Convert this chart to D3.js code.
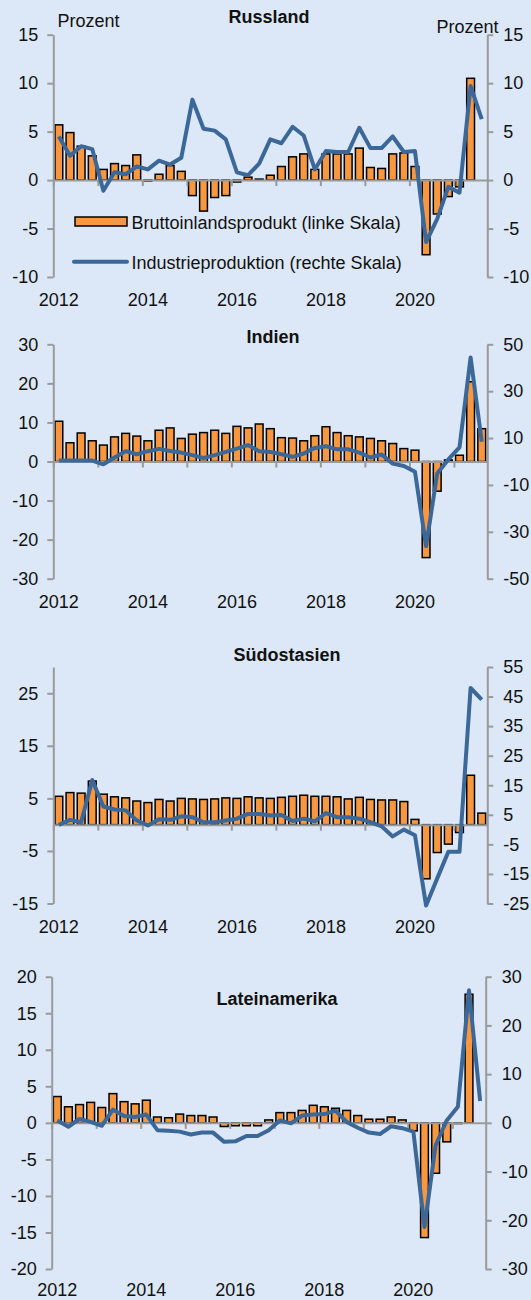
<!DOCTYPE html>
<html>
<head>
<meta charset="utf-8">
<script src="https://cdn.jsdelivr.net/npm/d3@7"></script>
<style>
body { margin: 0; background: #dce8f7; }
svg { display: block; font-family: "Liberation Sans", Arial, sans-serif; }
</style>
</head>
<body>
<div id="chart"></div>
<script>
"use strict";

// quarters 2012Q1 .. 2021Q3
var years = [2012, 2013, 2014, 2015, 2016, 2017, 2018, 2019, 2020, 2021];
var quarters = [];
years.forEach(function(y) {
  [1, 2, 3, 4].forEach(function(q) {
    if (y < 2021 || q < 4) quarters.push(y + "Q" + q);
  });
});
var yearLabels = [2012, 2014, 2016, 2018, 2020];

// Russland (Veraenderung ggue. Vorjahr, Prozent)
var rusGdp = [5.7, 4.9, 3.5, 2.5, 1.1, 1.7, 1.5, 2.6, -0.1, 0.6, 1.5, 0.9, -1.6, -3.2, -1.8, -1.6, -0.2, 0.3, 0.1, 0.5,
  1.4, 2.4, 2.7, 1.1, 2.7, 2.7, 2.7, 3.3, 1.3, 1.2, 2.7, 2.8, 1.4, -7.7, -3.5, -1.7, -0.7, 10.5, null];
var rusIp = [4.5, 2.5, 3.5, 3.2, -1.1, 0.8, 0.6, 1.4, 1.1, 2.0, 1.6, 2.3, 8.3, 5.3, 5.1, 4.2, 0.8, 0.5, 1.7, 4.2,
  3.8, 5.5, 4.6, 1.1, 3.0, 2.9, 2.9, 5.4, 3.3, 3.3, 4.5, 2.9, 3.0, -6.4, -4.0, -0.7, -1.3, 9.7, 6.3];

// Indien
var indGdp = [10.3, 4.8, 7.3, 5.3, 4.2, 6.3, 7.2, 6.5, 5.3, 8.0, 8.6, 5.9, 7.0, 7.4, 8.0, 7.2, 9.0, 8.6, 9.6, 8.4,
  6.1, 6.0, 5.3, 6.6, 8.9, 7.4, 6.6, 6.3, 5.9, 5.3, 4.6, 3.3, 2.9, -24.6, -7.6, 0.4, 1.6, 20.4, 8.4];
var indIp = [0.4, 0.4, 0.4, 0.4, -1.2, 1.7, 4.4, 3.1, 4.4, 5.4, 4.5, 3.8, 2.7, 1.5, 2.7, 4.1, 5.5, 7.0, 4.4, 4.1,
  3.1, 2.0, 3.4, 5.8, 6.5, 5.2, 5.2, 3.8, 1.7, 3.0, -0.9, -1.9, -4.4, -36.1, -5.1, 0.9, 6.0, 44.4, 8.4];

// Suedostasien
var seaGdp = [5.4, 6.1, 6.0, 8.3, 5.8, 5.3, 5.1, 4.5, 4.2, 4.8, 4.5, 5.0, 4.9, 4.8, 4.9, 5.1, 5.0, 5.3, 5.1, 5.0,
  5.2, 5.4, 5.6, 5.4, 5.4, 5.3, 4.9, 5.2, 4.8, 4.7, 4.7, 4.4, 1.0, -10.3, -5.3, -3.7, -1.5, 9.4, 2.2];
var seaIp = [1.6, 3.3, 2.5, 16.8, 7.8, 6.8, 6.5, 3.1, 1.4, 3.5, 3.3, 4.5, 4.2, 2.5, 2.5, 3.1, 3.7, 5.3, 5.3, 4.8,
  4.9, 2.9, 3.7, 2.8, 5.6, 4.2, 4.2, 3.7, 2.5, 1.1, -2.3, 0.0, -1.9, -25.7, -16.5, -7.5, -7.5, 47.9, 44.0];

// Lateinamerika
var latGdp = [3.6, 2.2, 2.5, 2.8, 2.1, 4.0, 2.9, 2.6, 3.1, 0.8, 0.7, 1.2, 1.0, 1.0, 0.8, -0.5, -0.4, -0.4, -0.4, 0.4,
  1.4, 1.4, 1.7, 2.4, 2.2, 2.0, 1.7, 1.0, 0.5, 0.5, 0.8, 0.4, -1.1, -15.7, -6.9, -2.6, -0.1, 17.6, null];
var latIp = [0.5, -0.8, 0.8, 0.2, -0.6, 2.7, 1.4, 1.2, 1.7, -1.5, -1.6, -1.8, -2.4, -2.0, -2.0, -3.9, -3.8, -2.7, -2.7, -1.5,
  0.5, -0.1, 1.5, 1.7, 1.8, 2.5, 0.2, -1.0, -2.0, -2.3, -0.7, -1.1, -1.8, -21.4, -4.6, 0.5, 3.3, 27.2, 4.5];

// axis ticks
var rusTicks = [-10, -5, 0, 5, 10, 15];
var indLeftTicks = [-30, -20, -10, 0, 10, 20, 30];
var indRightTicks = [-50, -30, -10, 10, 30, 50];
var seaLeftTicks = [-15, -5, 5, 15, 25];
var seaRightTicks = [-25, -15, -5, 5, 15, 25, 35, 45, 55];
var latLeftTicks = [-20, -15, -10, -5, 0, 5, 10, 15, 20];
var latRightTicks = [-30, -20, -10, 0, 10, 20, 30];

var width = 531,
  height = 1300;

var orange = "#f7973f",
  blue = "#3b6898",
  axisGray = "#9a9a9a",
  textCol = "#111";

var panels = [
  { title: "Russland", tx: 269, ty: 23, x0: 53.3, x1: 487.3, top: 34.7, bottom: 277, lab: 28.5,
    left: [-10, 15], right: [-10, 15], lt: rusTicks, rt: rusTicks, gdp: rusGdp, ip: rusIp, legend: true },
  { title: "Indien", tx: 273, ty: 343, x0: 53.3, x1: 487.3, top: 344.3, bottom: 578.7, lab: 29.5,
    left: [-30, 30], right: [-50, 50], lt: indLeftTicks, rt: indRightTicks, gdp: indGdp, ip: indIp },
  { title: "Südostasien", tx: 287, ty: 661, x0: 53.3, x1: 487.3, top: 667, bottom: 903.5, lab: 29.5,
    left: [-15, 30], right: [-25, 55], lt: seaLeftTicks, rt: seaRightTicks, gdp: seaGdp, ip: seaIp },
  { title: "Lateinamerika", tx: 277, ty: 1005, x0: 51.7, x1: 485.7, top: 976.7, bottom: 1269, lab: 26.5,
    left: [-20, 20], right: [-30, 30], lt: latLeftTicks, rt: latRightTicks, gdp: latGdp, ip: latIp }
];

// plain hyphen minus, as in the original
var fmt = function(d) { return String(d); };

var svg = d3
  .select("#chart")
  .append("svg")
  .attr("width", width)
  .attr("height", height);

svg.append("rect").attr("width", width).attr("height", height).attr("fill", "#dce8f7");

function styleAxis(g) {
  g.attr("color", axisGray).attr("font-size", null).attr("font-family", null);
  g.selectAll("path, line").attr("stroke-width", 2);
  g.selectAll("text").attr("fill", textCol).style("font-size", "18px");
}

panels.forEach(function(p) {
  var g = svg.append("g");

  var x = d3
    .scaleBand()
    .domain(quarters)
    .range([p.x0, p.x1])
    .paddingInner(0.3)
    .paddingOuter(0.15);

  var xYear = d3.scaleLinear().domain([2012, 2021.75]).range([p.x0, p.x1]);

  var yL = d3.scaleLinear().domain(p.left).range([p.bottom, p.top]);
  var yR = d3.scaleLinear().domain(p.right).range([p.bottom, p.top]);

  // bars
  var barData = quarters.map(function(q, i) {
    return { q: q, v: p.gdp[i] };
  }).filter(function(d) { return d.v !== null; });

  g.selectAll("rect.bar")
    .data(barData)
    .enter()
    .append("rect")
    .attr("class", "bar")
    .attr("x", function(d) { return x(d.q); })
    .attr("width", x.bandwidth())
    .attr("y", function(d) { return yL(Math.max(0, d.v)); })
    .attr("height", function(d) { return Math.abs(yL(d.v) - yL(0)); })
    .attr("fill", orange)
    .attr("stroke", "#000")
    .attr("stroke-width", 1.5);

  // left axis
  g.append("g")
    .attr("transform", "translate(" + p.x0 + ",0)")
    .call(d3.axisLeft(yL).tickValues(p.lt).tickFormat(fmt).tickSize(6).tickSizeOuter(0).tickPadding(9))
    .call(styleAxis);

  // right axis
  g.append("g")
    .attr("transform", "translate(" + p.x1 + ",0)")
    .call(d3.axisRight(yR).tickValues(p.rt).tickFormat(fmt).tickSize(6).tickSizeOuter(0).tickPadding(10))
    .call(styleAxis);

  // zero line with yearly ticks
  g.append("g")
    .attr("transform", "translate(0," + yL(0) + ")")
    .call(d3.axisBottom(xYear).tickValues(years).tickSize(6).tickSizeOuter(0).tickFormat(""))
    .call(styleAxis);

  // year labels
  g.selectAll("text.year")
    .data(yearLabels)
    .enter()
    .append("text")
    .attr("class", "year")
    .attr("x", function(d) { return x(d + "Q1") + x.bandwidth() / 2; })
    .attr("y", p.bottom + p.lab)
    .attr("text-anchor", "middle")
    .attr("fill", textCol)
    .style("font-size", "18px")
    .text(function(d) { return d; });

  // line
  var line = d3
    .line()
    .x(function(d, i) { return x(quarters[i]) + x.bandwidth() / 2; })
    .y(function(d) { return yR(d); });

  g.append("path")
    .datum(p.ip)
    .attr("d", line)
    .attr("fill", "none")
    .attr("stroke", blue)
    .attr("stroke-width", 4)
    .attr("stroke-linejoin", "round");

  // title
  g.append("text")
    .attr("x", p.tx)
    .attr("y", p.ty)
    .attr("text-anchor", "middle")
    .attr("font-weight", "bold")
    .attr("fill", textCol)
    .style("font-size", "18px")
    .text(p.title);

  if (p.legend) {
    g.append("text")
      .attr("x", 57.5)
      .attr("y", 26.5)
      .attr("fill", textCol)
      .style("font-size", "18px")
      .text("Prozent");
    g.append("text")
      .attr("x", 498.5)
      .attr("y", 33)
      .attr("text-anchor", "end")
      .attr("fill", textCol)
      .style("font-size", "18px")
      .text("Prozent");

    g.append("rect")
      .attr("x", 75)
      .attr("y", 217)
      .attr("width", 52)
      .attr("height", 9)
      .attr("fill", orange)
      .attr("stroke", "#000")
      .attr("stroke-width", 1.5);
    g.append("text")
      .attr("x", 131.5)
      .attr("y", 228.5)
      .attr("fill", textCol)
      .style("font-size", "18px")
      .text("Bruttoinlandsprodukt (linke Skala)");

    g.append("line")
      .attr("x1", 74)
      .attr("x2", 127)
      .attr("y1", 261.7)
      .attr("y2", 261.7)
      .attr("stroke", blue)
      .attr("stroke-width", 4)
      .attr("stroke-linecap", "round");
    g.append("text")
      .attr("x", 131.5)
      .attr("y", 268.5)
      .attr("fill", textCol)
      .style("font-size", "18px")
      .text("Industrieproduktion (rechte Skala)");
  }
});
</script>
</body>
</html>
